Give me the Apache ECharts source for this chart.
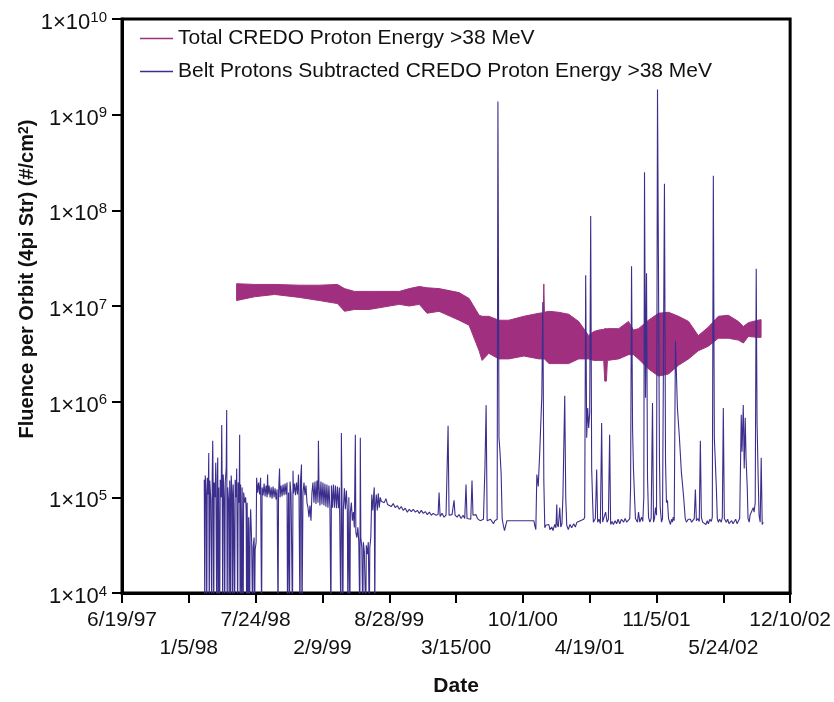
<!DOCTYPE html>
<html><head><meta charset="utf-8">
<script src="https://cdn.jsdelivr.net/npm/echarts@6/dist/echarts.min.js"></script>
<style>html,body{margin:0;padding:0;background:#fff}#c{width:834px;height:702px}</style>
</head><body><div id="c"></div>
<script>
// x values are days since 6/19/97
const xTickLabels = ['6/19/97','1/5/98','7/24/98','2/9/99','8/28/99','3/15/00','10/1/00','4/19/01','11/5/01','5/24/02','12/10/02'];
const xTickStepDays = 200;
const xMaxDays = 2000;
const seriesNames = ['Total CREDO Proton Energy >38 MeV', 'Belt Protons Subtracted CREDO Proton Energy >38 MeV'];

// Total CREDO band (upper / lower envelope of orbit-to-orbit values)
const totalDays = [343,397,457,531,591,645,666,696,740,830,860,890,913,949,1009,1039,1069,1078,1098,1128,1158,1203,1248,1261,1262.7,1264.5,1278,1307,1337,1367,1397,1412,1427,1442,1445,1450,1453,1487,1516,1531,1546,1576,1606,1636,1666,1696,1725,1755,1785,1815,1845,1860,1875,1904,1913];
const totalHigh = [1.71e7,1.68e7,1.68e7,1.65e7,1.65e7,1.68e7,1.52e7,1.42e7,1.42e7,1.42e7,1.52e7,1.6e7,1.55e7,1.52e7,1.38e7,1.2e7,8.0e6,7.8e6,7.8e6,7.1e6,7.1e6,7.8e6,8.4e6,8.5e6,1.7e7,8.6e6,8.8e6,8.6e6,8.2e6,6.9e6,4.9e6,5.4e6,5.6e6,5.7e6,5.8e6,5.8e6,5.8e6,5.8e6,6.9e6,5.6e6,5.8e6,7.1e6,8.4e6,8.6e6,7.8e6,6.9e6,4.9e6,6.0e6,7.8e6,8.0e6,6.9e6,6.1e6,6.7e6,7.1e6,7.2e6];
const totalLow = [1.14e7,1.25e7,1.32e7,1.23e7,1.14e7,1.06e7,8.8e6,9.2e6,9.2e6,1.04e7,1.0e7,1.04e7,8.4e6,8.8e6,7.1e6,6.3e6,3.4e6,2.7e6,3.2e6,2.8e6,2.8e6,3.0e6,2.8e6,2.8e6,2.8e6,2.8e6,2.5e6,2.5e6,2.5e6,2.8e6,2.8e6,2.7e6,2.7e6,2.7e6,1.64e6,1.64e6,2.7e6,2.8e6,3.1e6,3.1e6,2.8e6,2.2e6,1.85e6,1.95e6,2.4e6,2.8e6,3.4e6,3.8e6,4.6e6,4.6e6,4.4e6,4.1e6,4.8e6,4.7e6,4.7e6];

// Belt-subtracted series [day, fluence]; 5e3 = dropout below the axis floor
const beltSeries = [
[246.3,1.53e5],[247.8,5e3],[249.2,1.69e5],[252.2,1.0e5],[253.7,5e3],[255.2,1.6e5],[258.2,1.07e5],[259.7,2.9e5],[261.2,5e3],[262.7,1.5e5],[265.7,9.5e4],[268.7,5e3],[270.1,1.69e5],[271.6,3.9e5],[273.1,1.12e5],[274.6,5e3],[276.1,1.43e5],[279.1,1.0e5],[280.6,2.3e5],[283.6,5e3],[285.1,1.6e5],[286.6,2.6e5],[288.1,5e3],[289.5,1.27e5],[292.5,5e3],[294.0,1.53e5],[297.0,1.0e5],[298.5,5.7e5],[300.0,1.12e5],[301.5,5e3],[303.0,1.73e5],[306.0,8.8e4],[307.5,5e3],[309.0,1.43e5],[311.9,2.0e5],[313.4,8.2e5],[314.9,5e3],[316.4,1.27e5],[319.4,8.8e4],[320.9,5e3],[322.4,1.5e5],[323.9,9.3e4],[325.4,5e3],[326.9,1.69e5],[329.8,1.0e5],[331.3,5e3],[332.8,1.36e5],[334.3,8.8e4],[337.3,5e3],[338.8,1.53e5],[341.8,1.0e5],[343.3,2.0e5],[346.3,5e3],[347.8,1.43e5],[350.7,8.8e4],[352.2,4.5e5],[353.7,5e3],[355.2,1.36e5],[358.2,5e3],[359.7,1.27e5],[362.7,5e3],[364.2,1.12e5],[367.2,8.8e4],[370.1,1.0e5],[371.6,7.5e4],[373.1,5e3],[374.6,8.8e4],[377.6,5e3],[379.1,6.2e4],[382.1,5e3],[383.6,4.85e4],[385.1,7.5e4],[388.1,3.4e4],[391.0,5e3],[392.5,3.0e4],[395.5,3.8e4],[397.0,5e3],[398.5,2.8e4],[401.5,3.4e4],
[403.0,1.6e5],[406.0,1.12e5],[409.0,1.43e5],[411.9,1.07e5],[414.9,1.6e5],[417.9,5e3],[419.4,1.27e5],[422.4,1.05e5],[425.4,1.39e5],[428.3,1.02e5],[431.3,1.33e5],[434.3,1.0e5],[435.8,1.73e5],[437.3,1.07e5],[440.3,1.33e5],[443.3,1.0e5],[446.3,1.27e5],[449.2,9.7e4],[452.2,1.3e5],[455.2,1.0e5],[458.2,1.24e5],[461.2,9.5e4],[464.2,1.21e5],[467.2,5e3],[468.6,1.1e5],[471.6,2.0e5],[473.1,1.0e5],[476.1,1.33e5],[479.1,1.02e5],[482.1,1.36e5],[485.1,1.05e5],[488.0,1.39e5],[491.0,1.07e5],[494.0,1.43e5],[495.5,5e3],[498.5,1.12e5],[501.5,5e3],[503.0,1.46e5],[506.0,1.07e5],[510.4,5e3],[511.9,1.9e5],[513.4,1.1e5],[516.4,1.39e5],[519.4,1.05e5],[522.4,1.43e5],[525.4,1.07e5],[528.3,1.73e5],[529.8,1.1e5],[532.8,5e3],[534.3,1.46e5],[537.3,2.2e5],[538.8,5e3],[541.8,1.12e5],[544.8,1.43e5],[547.7,1.05e5],[550.7,1.33e5],[553.7,8.8e4],[556.7,7.8e4],[559.7,6.2e4],[562.7,8.2e4],[565.7,5.7e4],
[568.6,1.12e5],[571.6,1.43e5],[574.6,8.8e4],[577.6,1.46e5],[580.6,8.5e4],[583.6,1.5e5],[586.6,8.8e4],[588.0,3.9e5],[589.5,1.43e5],[592.5,8.2e4],[595.5,1.46e5],[598.5,8.4e4],[601.5,1.43e5],[604.5,8.2e4],[607.4,1.39e5],[610.4,8.0e4],[613.4,1.36e5],[616.4,7.8e4],[619.4,1.33e5],[622.4,7.8e4],[625.4,5e3],[626.9,1.33e5],[629.8,7.8e4],[632.8,1.36e5],[635.8,7.8e4],[638.8,1.33e5],[641.8,7.7e4],[644.8,1.3e5],[647.7,7.7e4],[650.7,1.27e5],[655.2,5e3],[656.7,4.7e5],[658.2,1.27e5],[661.2,5e3],[662.7,7.5e4],[665.7,1.24e5],[668.6,7.5e4],[671.6,1.18e5],[674.6,7.1e4],[676.1,5e3],[679.1,1.0e5],[682.1,5e3],[683.6,7.0e4],[686.6,8.8e4],[689.5,5.7e4],[692.5,7.0e4],[695.5,4.85e4],[698.5,4.5e5],[700.0,4.3e4],[703.0,3.8e4],[706.0,4.85e4],[708.9,3.4e4],[711.9,5e3],[713.4,4.2e5],[714.9,3.8e4],[717.9,3.0e4],[720.9,5e3],[722.4,3.4e4],[725.4,2.7e4],[729.8,5e3],[731.3,3.15e4],[734.3,2.55e4],[737.3,3.4e4],[740.3,5e3],[741.8,3.0e4],[744.8,3.8e4],[747.7,1.07e5],[750.7,7.3e4],[753.7,1.12e5],[755.2,1.27e5],[756.7,5e3],[758.2,7.8e4],[761.2,1.07e5],[764.2,7.3e4],[767.1,1.1e5],[770.1,7.8e4],[773.1,1.0e5],[776.1,9.1e4],
[779.1,9.3e4],[785,8.8e4],[790,9.7e4],[795,8.4e4],[800,8.6e4],[806,8.0e4],[812,8.6e4],[818,7.8e4],[824,8.2e4],[830,7.5e4],[836,8.0e4],[842,7.3e4],[848,7.7e4],[854,7.0e4],[860,7.5e4],[866,7.1e4],[872,7.5e4],[878,7.0e4],[884,7.3e4],[890,6.8e4],[896,7.3e4],[902,6.8e4],[908,7.1e4],[914,6.6e4],[920,7.0e4],[926,6.5e4],[932,6.8e4],[940,6.5e4],[946.2,6.6e4],[949.2,1.12e5],[952.2,6.3e4],[958,6.8e4],[964,6.2e4],[970,6.5e4],[973.1,6.3e4],[976.1,5.6e5],[979,6.5e4],[982.1,6.2e4],[988,6.6e4],[994,9.3e4],[997,6.5e4],[1003,6.2e4],[1008.9,6.6e4],[1015,6.0e4],[1021,6.5e4],[1026,6.0e4],[1029.8,1.36e5],[1032.8,6.0e4],[1038,6.2e4],[1044,5.9e4],[1047.7,1.5e5],[1050.7,6.5e4],[1055,6.8e4],[1059.7,6.6e4],[1064,6.0e4],[1068.6,6.2e4],[1072,5.7e4],[1077.6,5.5e4],[1082,5.9e4],[1086.5,2.1e5],[1090,9.2e5],[1093,5.7e4],[1098,5.5e4],[1103,5.9e4],[1107.4,5.6e4],[1112,5.3e4],[1116,5.7e4],[1119.4,5.5e4],[1123,5.9e4],
[1125.3,1.37e9],[1128.5,4.2e5],[1131.5,3.0e5],[1135,1.73e5],[1138,6.0e4],[1141,5.2e4],[1145,4.5e4],[1149,4.7e4],[1152.2,5.7e4],[1232.8,5.7e4],[1236,5.0e4],[1238.8,4.6e4],[1241.8,1.73e5],[1246,1.3e5],[1250.7,3.1e5],[1256.7,1.15e6],[1259.7,1.1e7],[1262.7,1.5e5],[1265.6,4.8e4],[1268.6,5.1e4],[1273,4.9e4],[1277.6,5.2e4],[1281,4.6e4],[1286.5,4.9e4],[1290,4.5e4],[1295.5,5.2e4],[1299,4.8e4],[1301.5,8.4e4],[1303,5.2e4],[1306,4.9e4],[1310.4,7.8e4],[1313.4,4.9e4],[1317,5.3e4],[1320,1.07e5],[1325.3,1.15e6],[1328.3,1.0e5],[1331.3,5.1e4],[1336,4.6e4],[1341,5.2e4],[1346,4.8e4],[1352.2,5.3e4],[1357,4.9e4],[1362,5.5e4],[1367.1,5.3e4],[1372,5.7e4],[1377,5.5e4],[1382.1,5.9e4],[1385,6.2e4],
[1388,2.1e7],[1391,4.2e5],[1394,8.6e5],[1397,5.3e5],[1400,7.6e5],[1403,8.7e7],[1405.9,2.0e5],[1408.9,8.8e4],[1411,5.5e4],[1414.9,5.3e4],[1417,6.0e4],[1420.9,1.95e5],[1423.8,5.5e4],[1428,5.9e4],[1432,5.3e4],[1435.8,6.0e5],[1438.8,5.5e4],[1443,6.2e4],[1447.7,7.0e4],[1452,5.5e4],[1456,5.9e4],[1459.7,4.5e5],[1462.7,5.2e4],[1467,5.6e4],[1471,5.2e4],[1476,5.7e4],[1480.6,5.3e4],[1485,5.9e4],[1490,5.3e4],[1495,5.9e4],[1501.5,5.5e4],[1506,6.0e4],[1511,5.5e4],[1516.4,5.6e4],[1520,6.0e4],[1522.4,1.27e5],[1525.3,2.6e7],[1528.3,5.3e5],[1531,2.0e5],[1534.3,1.0e5],[1537,6.0e4],[1540.3,5.9e4],[1543,5.5e4],[1546.2,7.0e4],[1550,5.5e4],[1555.2,6.2e4],[1559,5.6e4],[1562,1.0e5],[1564.1,2.5e8],[1567.1,1.1e6],[1570.1,2.2e7],[1573.1,1.6e5],[1576.1,6.2e4],[1580,5.5e4],[1584,6.0e4],[1588,9.7e5],[1591,5.5e4],[1594,6.0e4],[1597,7.8e4],[1600,6.5e4],
[1603,1.83e9],[1608.9,2.4e5],[1611,8.0e4],[1614.9,5.5e4],[1618,6.0e4],[1623.8,1.9e8],[1627,2.4e5],[1629.8,8.8e4],[1632.8,9.3e4],[1636,6.0e4],[1641.8,5.2e4],[1645,5.9e4],[1647.7,5.5e4],[1650,6.2e4],[1653,5.7e4],[1656.7,4.3e6],[1662.6,8.6e5],[1668.6,4.2e5],[1674.6,1.8e5],[1680.6,1.07e5],[1686,6.0e4],[1689.5,5.5e4],[1695,5.9e4],[1701.5,5.9e4],[1705,5.5e4],[1710.4,5.5e4],[1713,6.0e4],[1716.4,1.21e5],[1719.4,5.7e4],[1724,6.0e4],[1728,5.6e4],[1731.3,3.9e5],[1734.3,6.2e4],[1738,5.5e4],[1743.2,5.7e4],[1748,5.2e4],[1752,5.7e4],[1755.2,5.3e4],[1760,5.9e4],[1764.1,5.6e4],[1767,6.2e4],
[1770.1,2.3e8],[1773.1,4.2e5],[1776,2.4e5],[1779.1,1.27e5],[1782,6.0e4],[1785,5.5e4],[1789,5.9e4],[1794,5.5e4],[1797,6.2e4],[1800,8.6e5],[1803,6.0e4],[1808.9,5.5e4],[1813,5.9e4],[1817,5.3e4],[1820.9,5.2e4],[1825,5.7e4],[1829,5.3e4],[1832.8,5.3e4],[1837,5.9e4],[1841,5.3e4],[1844.7,5.1e4],[1849,6.0e4],[1853.7,7.3e5],[1856,3.0e5],[1859.7,9.2e5],[1862.6,2.0e5],[1865.6,6.8e5],[1868,2.6e5],[1871.6,1.27e5],[1874,6.0e4],[1877.6,5.5e4],[1880,6.5e4],[1883.5,6.2e4],[1886,7.3e4],[1889.5,7.8e4],[1892,7.0e4],[1895.5,8.8e4],[1898.5,2.45e7],[1901,6.0e5],[1904.4,1.6e5],[1907,6.5e4],[1910.4,5.5e4],[1913.4,2.6e5],[1916.4,5.2e4],[1919.4,5.5e4]
];

const FONT = "'Liberation Sans','Arial',sans-serif";
const MAG = '#a0307f';
const BLUE = '#3b2e8c';
const TXT = '#111';

function xLabel(parity) {
  return function (v) {
    const i = Math.round(v / xTickStepDays);
    return (i % 2 === parity) ? (xTickLabels[i] || '') : '';
  };
}

const chart = echarts.init(document.getElementById('c'), null, {renderer: 'canvas'});
chart.setOption({
  animation: false,
  backgroundColor: '#fff',
  grid: {left: 122, right: 42, top: 19, bottom: 106, show: true, borderColor: '#000', borderWidth: 3, backgroundColor: 'transparent'},
  legend: {
    data: seriesNames,
    orient: 'vertical', left: 140, top: 28, padding: 0,
    icon: 'rect', itemWidth: 33, itemHeight: 1.5, itemGap: 12,
    textStyle: {fontFamily: FONT, fontSize: 21, color: TXT, padding: [0, 0, 0, 0]},
    selectedMode: false
  },
  xAxis: [{
    type: 'value', min: 0, max: xMaxDays, interval: xTickStepDays, position: 'bottom',
    axisLine: {show: true, onZero: false, lineStyle: {color: '#000', width: 3}},
    axisTick: {show: true, length: 10, lineStyle: {color: '#000', width: 2}},
    splitLine: {show: false},
    axisLabel: {fontFamily: FONT, fontSize: 21, color: TXT, margin: 17, showMinLabel: true, showMaxLabel: true, formatter: xLabel(0)},
    name: 'Date', nameLocation: 'middle', nameGap: 83,
    nameTextStyle: {fontFamily: FONT, fontWeight: 'bold', fontSize: 21, color: TXT}
  }, {
    type: 'value', min: 0, max: xMaxDays, interval: xTickStepDays, position: 'bottom', gridIndex: 0,
    axisLine: {show: false}, axisTick: {show: false}, splitLine: {show: false},
    axisLabel: {fontFamily: FONT, fontSize: 21, color: TXT, margin: 45, showMinLabel: true, showMaxLabel: true, formatter: xLabel(1)}
  }],
  yAxis: {
    type: 'log', logBase: 10, min: 1e4, max: 1e10,
    axisLine: {show: true, lineStyle: {color: '#000', width: 3}},
    axisTick: {show: true, length: 10, lineStyle: {color: '#000', width: 2}},
    minorTick: {show: false},
    splitLine: {show: false},
    axisLabel: {
      margin: 15, padding: [8, 0, 0, 0],
      formatter: function (v) {
        const e = Math.round(Math.log10(v));
        return '{b|1×10}{s|' + e + '}';
      },
      rich: {
        b: {fontFamily: FONT, fontSize: 22, color: TXT, lineHeight: 26},
        s: {fontFamily: FONT, fontSize: 15, color: TXT, lineHeight: 15, verticalAlign: 'top'}
      }
    }
  },
  graphic: [{
    type: 'text', x: 27, y: 279, rotation: Math.PI / 2,
    style: {
      text: 'Fluence per Orbit (4pi Str) (#/cm{s|2})',
      fontFamily: FONT, fontWeight: 'bold', fontSize: 20, fill: TXT,
      align: 'center', verticalAlign: 'middle',
      rich: {s: {fontFamily: FONT, fontWeight: 'bold', fontSize: 14, fill: TXT, verticalAlign: 'top', lineHeight: 14}}
    }
  }],
  series: [
    {
      name: seriesNames[0], type: 'custom', silent: true, clip: true, xAxisIndex: 0,
      itemStyle: {color: MAG},
      encode: {x: 0, y: [1, 2]},
      data: totalDays.map((d, i) => [d, totalLow[i], totalHigh[i]]),
      renderItem: function (params, api) {
        if (params.dataIndex !== 0) return null;
        const pts = [];
        for (let j = 0; j < totalDays.length; j++) pts.push(api.coord([totalDays[j], totalHigh[j]]));
        for (let j = totalDays.length - 1; j >= 0; j--) pts.push(api.coord([totalDays[j], totalLow[j]]));
        return {type: 'polygon', shape: {points: pts}, style: {fill: MAG, stroke: MAG, lineWidth: 1}};
      },
      z: 2
    },
    {
      name: seriesNames[1], type: 'line', symbol: 'none', silent: true, xAxisIndex: 0,
      data: beltSeries,
      lineStyle: {width: 1.1, color: BLUE}, itemStyle: {color: BLUE}, z: 3
    }
  ]
});
</script></body></html>
